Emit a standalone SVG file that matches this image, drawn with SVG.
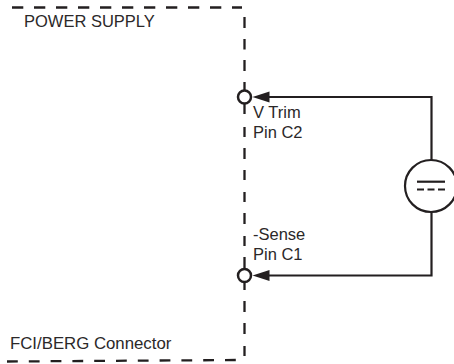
<svg xmlns="http://www.w3.org/2000/svg" width="454" height="364" viewBox="0 0 454 364">
<style>
.t{font-family:"Liberation Sans",Arial,sans-serif;font-size:16.5px;fill:#2b2829}
.d{fill:none;stroke:#231f20;stroke-width:2.300}
.w{fill:none;stroke:#231f20;stroke-width:2.200}
.p{fill:#fff;stroke:#231f20;stroke-width:2.500}
.h{fill:#231f20}
</style>
<g id="enclosure">
<path class="d" d="M12 7.500H242" stroke-dasharray="11.300 10.700"/>
<path class="d" d="M244.500 17V28M244.500 39V49.500M244.500 60V71M244.500 82V114M244.500 127V137M244.500 148V159M244.500 170V180M244.500 192V202M244.500 213V224M244.500 236V246M244.500 257V290M244.500 301V312M244.500 323V334M244.500 346V356"/>
<path class="d" d="M7 361.500L238 360" stroke-dasharray="10.800 11"/>
</g>
<g id="connectors">
<path class="w" d="M264 97H431.500V160M431.500 212V275.500H264"/>
<path class="h" d="M252.500 97L269.500 91.500V102.500Z"/>
<path class="h" d="M252.500 275.500L269.500 270V281Z"/>
</g>
<g id="pin-c2"><circle class="p" cx="244.500" cy="97" r="6.500"/></g>
<g id="pin-c1"><circle class="p" cx="244.500" cy="275.500" r="6.500"/></g>
<g id="source">
<circle class="w" cx="431" cy="186" r="26"/>
<path class="w" d="M417 181.700H445"/>
<path class="w" d="M417 189.500H445" stroke-dasharray="7 3.500"/>
</g>
<g id="labels">
<text class="t" x="24" y="27">POWER SUPPLY</text>
<text class="t" x="253" y="118">V Trim</text>
<text class="t" x="253" y="138">Pin C2</text>
<text class="t" x="253" y="240">-Sense</text>
<text class="t" x="253" y="260">Pin C1</text>
<text class="t" x="10" y="349" style="font-size:16.800px">FCI/BERG Connector</text>
</g>
</svg>
